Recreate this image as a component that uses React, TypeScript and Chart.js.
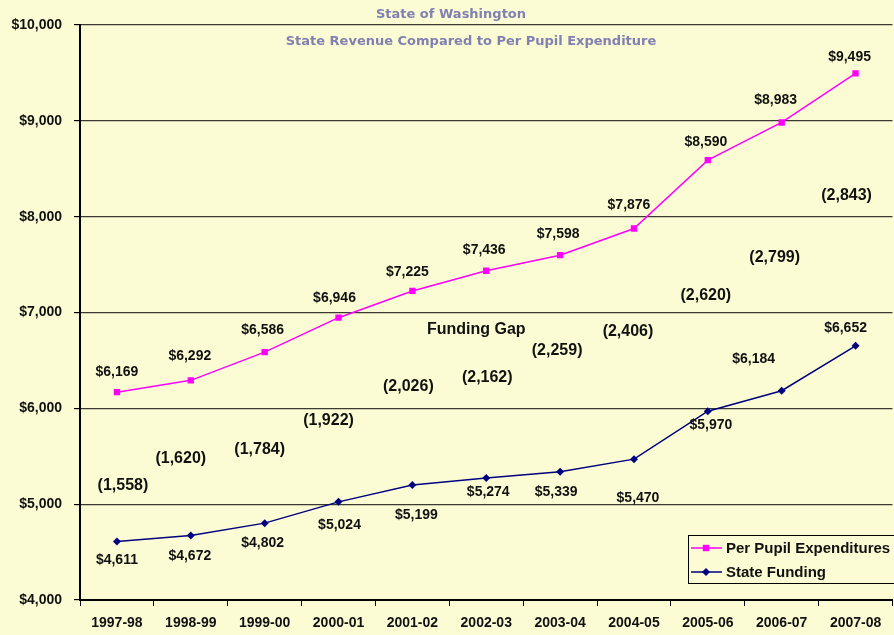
import React, { useEffect, useRef } from "react";
import { Chart, registerables } from "chart.js";

Chart.register(...registerables);

const categories = ["1997-98", "1998-99", "1999-00", "2000-01", "2001-02", "2002-03", "2003-04", "2004-05", "2005-06", "2006-07", "2007-08"];
const perPupil = [6169, 6292, 6586, 6946, 7225, 7436, 7598, 7876, 8590, 8983, 9495];
const stateFunding = [4611, 4672, 4802, 5024, 5199, 5274, 5339, 5470, 5970, 6184, 6652];
const yTickValues = [4000, 5000, 6000, 7000, 8000, 9000, 10000];

// annotation placement (offsets of each value label from its point, in px)
const perPupilLabelDx = [0, -1, -2, -4, -5, -2, -2, -5, -2, -6, -6];
const perPupilLabelDy = [-20, -24, -22, -20, -19, -21, -21, -23, -18, -22, -16];
const stateLabelDx = [0, -1, -2, 1, 4, 2, -4, 4, 3, -28, -10];
const stateLabelDy = [19, 21, 20, 23, 30, 14, 20, 39, 14, -32, -18];
// vertical anchor (in $ units) for each "funding gap" annotation
const gapLabelY = [5190, 5471, 5573, 5868, 6226, 6320, 6598, 6800, 7175, 7569, 8219];
const gapLabelDx = [6, -10, -5, -10, -4, 1, -3, -6, -2, -7, -9];

const BG = "#FCFCD4";
const MAGENTA = "#FF00FF";
const NAVY = "#000080";
const TEXT = "#111111";
const LABEL_FONT = "'Liberation Sans', Arial, sans-serif";

const fmt = (v: number) => v.toLocaleString("en-US");

const overlay = {
  id: "overlay",
  beforeDraw(chart: any) {
    const { ctx, width, height } = chart;
    ctx.save();
    ctx.fillStyle = BG;
    ctx.fillRect(0, 0, width, height);
    ctx.restore();
  },
  afterDatasetsDraw(chart: any) {
    const ctx = chart.ctx;
    const xs = chart.scales.x;
    const ys = chart.scales.y;
    ctx.save();
    ctx.fillStyle = TEXT;
    ctx.textAlign = "center";
    ctx.textBaseline = "middle";
    ctx.font = `bold 14px ${LABEL_FONT}`;
    const m0 = chart.getDatasetMeta(0);
    const m1 = chart.getDatasetMeta(1);
    m0.data.forEach((pt: any, i: number) => {
      ctx.fillText("$" + fmt(perPupil[i]), pt.x + perPupilLabelDx[i], pt.y + perPupilLabelDy[i]);
    });
    m1.data.forEach((pt: any, i: number) => {
      ctx.fillText("$" + fmt(stateFunding[i]), pt.x + stateLabelDx[i], pt.y + stateLabelDy[i]);
    });

    ctx.font = `bold 16px ${LABEL_FONT}`;
    categories.forEach((_, i) => {
      const gap = perPupil[i] - stateFunding[i];
      ctx.fillText(`(${fmt(gap)})`, xs.getPixelForValue(i) + gapLabelDx[i], ys.getPixelForValue(gapLabelY[i]));
    });
    ctx.fillText("Funding Gap", xs.getPixelForValue(5) - 10, ys.getPixelForValue(6820));

    // titles
    ctx.font = "bold 13px 'DejaVu Sans', Verdana, sans-serif";
    ctx.fillStyle = "#8080B2";
    ctx.fillText("State of Washington", 451, 15);
    ctx.fillText("State Revenue Compared to Per Pupil Expenditure", 471, 42);

    // legend
    const lx = 688, ly = 535, lw = 215, lh = 48;
    ctx.fillStyle = BG;
    ctx.fillRect(lx, ly, lw, lh);
    ctx.strokeStyle = "#000";
    ctx.lineWidth = 1;
    ctx.strokeRect(lx + 0.5, ly + 0.5, lw, lh);
    const items = [
      { label: chart.data.datasets[0].label, color: MAGENTA, style: "rect", y: ly + 13 },
      { label: chart.data.datasets[1].label, color: NAVY, style: "diamond", y: ly + 37 },
    ];
    items.forEach((it) => {
      ctx.strokeStyle = it.color;
      ctx.lineWidth = 1.5;
      ctx.beginPath();
      ctx.moveTo(lx + 3, it.y);
      ctx.lineTo(lx + 34, it.y);
      ctx.stroke();
      ctx.fillStyle = it.color;
      const cx = lx + 18;
      if (it.style === "rect") {
        ctx.fillRect(cx - 3.2, it.y - 3.2, 6.4, 6.4);
      } else {
        ctx.beginPath();
        ctx.moveTo(cx, it.y - 4);
        ctx.lineTo(cx + 4, it.y);
        ctx.lineTo(cx, it.y + 4);
        ctx.lineTo(cx - 4, it.y);
        ctx.closePath();
        ctx.fill();
      }
      ctx.fillStyle = TEXT;
      ctx.textAlign = "left";
      ctx.font = `bold 15px ${LABEL_FONT}`;
      ctx.fillText(it.label, lx + 38, it.y + 1);
    });
    ctx.restore();
  },
};

export default function App() {
  const ref = useRef<HTMLCanvasElement | null>(null);
  useEffect(() => {
    if (!ref.current) return;
    const chart = new Chart(ref.current, {
      type: "line",
      data: {
        labels: categories,
        datasets: [
          {
            label: "Per Pupil Expenditures",
            data: perPupil,
            borderColor: MAGENTA,
            backgroundColor: MAGENTA,
            borderWidth: 1.5,
            pointStyle: "rect",
            pointRadius: 4.5,
            pointBorderWidth: 0,
            tension: 0,
          },
          {
            label: "State Funding",
            data: stateFunding,
            borderColor: NAVY,
            backgroundColor: NAVY,
            borderWidth: 1.5,
            pointStyle: "rectRot",
            pointRadius: 4,
            pointBorderWidth: 0,
            tension: 0,
          },
        ],
      },
      options: {
        responsive: false,
        animation: false,
        devicePixelRatio: 1,
        layout: { padding: { top: 25, left: 0, right: 0, bottom: 0 } },
        plugins: {
          legend: { display: false },
          title: { display: false },
          tooltip: { enabled: false },
        },
        scales: {
          x: {
            type: "category",
            offset: true,
            grid: {
              offset: true,
              drawOnChartArea: false,
              drawTicks: true,
              tickLength: 6,
              tickColor: "#000",
              color: "#000",
            },
            border: { display: true, color: "#000", width: 2 },
            ticks: {
              color: TEXT,
              font: { family: LABEL_FONT, size: 14, weight: "bold" },
              padding: 9,
              maxRotation: 0,
              autoSkip: false,
            },
            afterFit: (s: any) => {
              s.height = 35;
            },
          },
          y: {
            min: 4000,
            max: 10000,
            afterBuildTicks: (s: any) => {
              s.ticks = yTickValues.map((v) => ({ value: v }));
            },
            grid: {
              color: "#3a3a32",
              lineWidth: 1.2,
              drawTicks: true,
              tickLength: 6,
              tickColor: "#000",
            },
            border: { display: true, color: "#000", width: 2 },
            ticks: {
              color: TEXT,
              font: { family: LABEL_FONT, size: 14, weight: "bold" },
              padding: 12,
              callback: (v: any) => "$" + fmt(Number(v)),
            },
            afterFit: (s: any) => {
              s.width = 80;
            },
          },
        },
      },
      plugins: [overlay],
    });
    return () => chart.destroy();
  }, []);

  return (
    <div style={{ position: "fixed", left: 0, top: 0, width: 894, height: 635, overflow: "hidden", background: BG }}>
      <canvas ref={ref} width={897} height={635} style={{ display: "block", width: 897, height: 635 }} />
    </div>
  );
}
